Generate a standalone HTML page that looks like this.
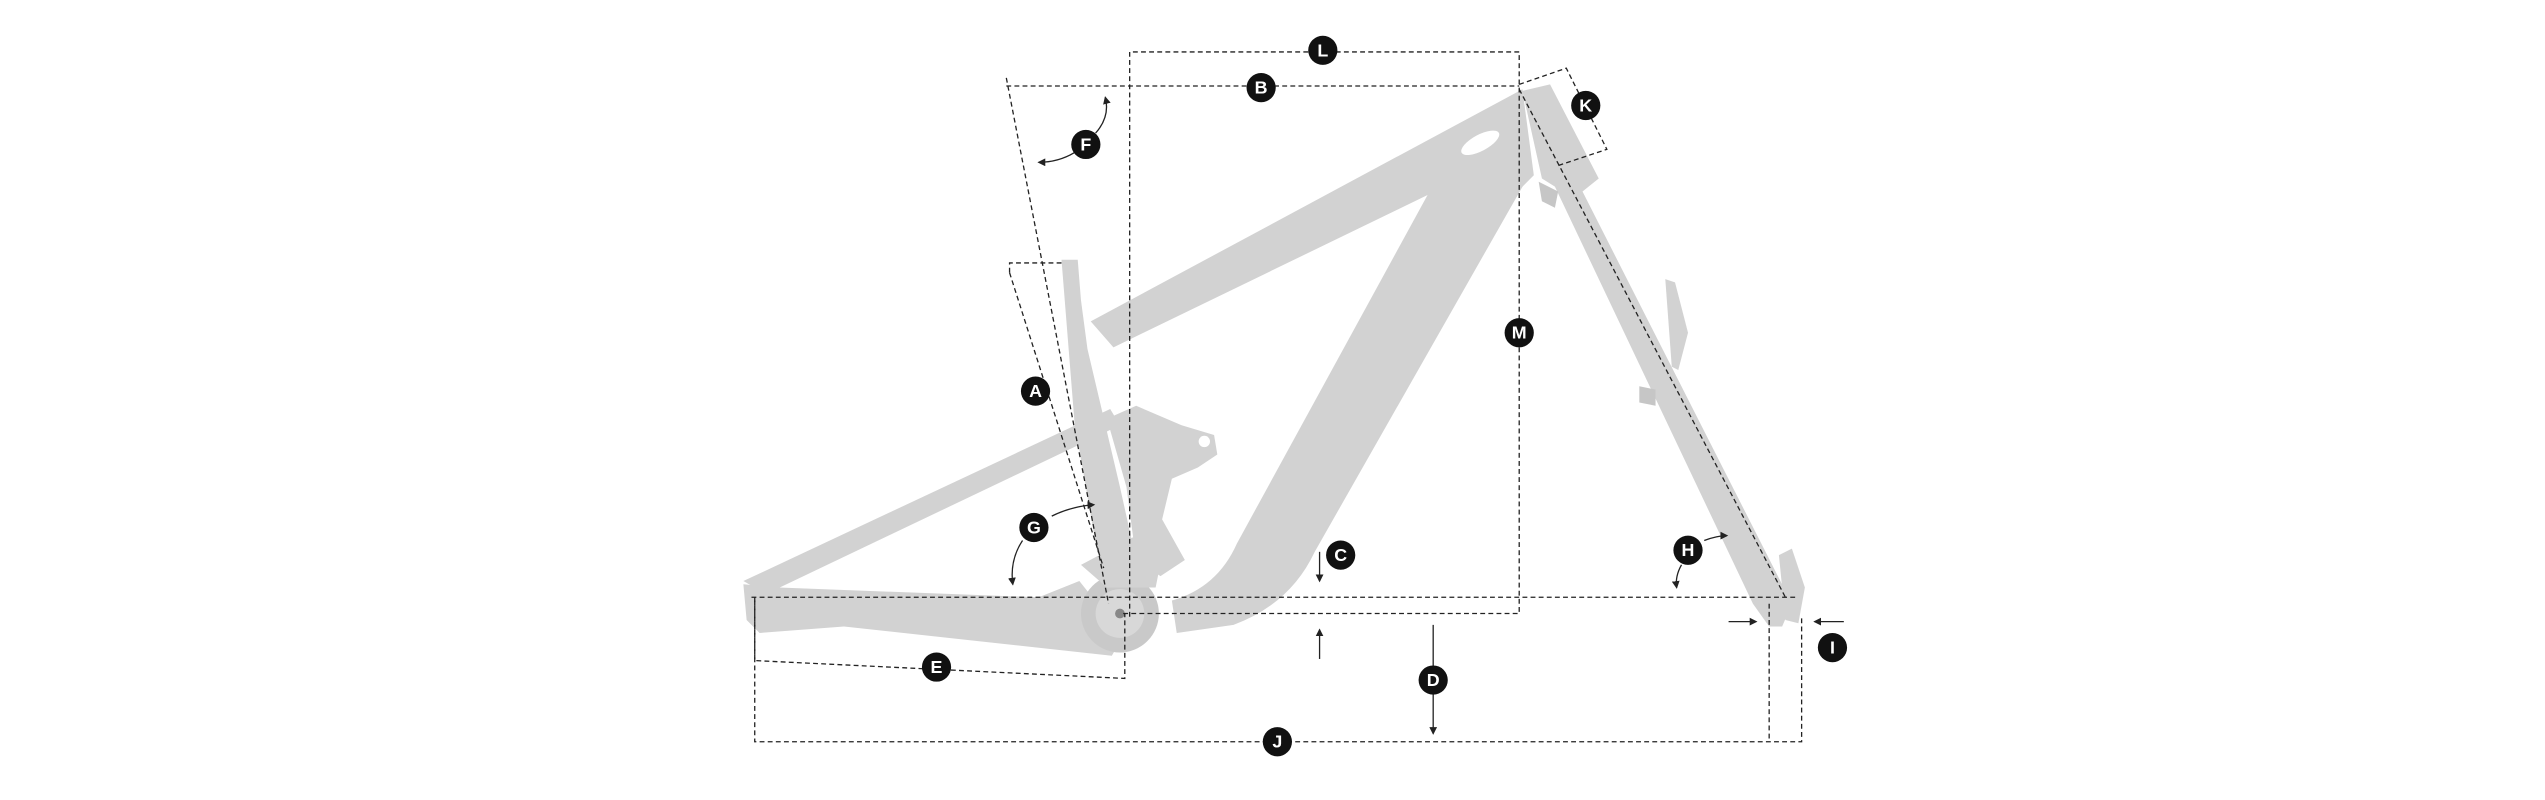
<!DOCTYPE html>
<html><head><meta charset="utf-8"><style>
html,body{margin:0;padding:0;background:#fff;}
svg{display:block;}
text{font-family:"Liberation Sans",sans-serif;font-weight:bold;fill:#fff;font-size:11px;text-anchor:middle;dominant-baseline:central;}
.d{stroke:#222;stroke-width:0.8;stroke-dasharray:3,2;fill:none;}
.s{stroke:#222;stroke-width:0.8;fill:none;}
.f{fill:#d2d2d2;}
.f2{fill:#c6c6c6;}
</style></head><body>
<svg width="2545" height="800" viewBox="0 0 1568 492.9" preserveAspectRatio="none">
<defs><marker id="a" markerWidth="6" markerHeight="6" refX="5" refY="3" orient="auto"><path d="M0,0L6,3L0,6z" fill="#222"/></marker></defs>
<!-- fork -->
<polygon class="f" points="938,56 955,52 985,110 975,118 1104,372 1098,386 1090,386 1080,372 958,115 950,110"/>
<polygon class="f2" points="948,112 960,118 958,128 950,124"/>
<polygon class="f" points="1026,172 1032,174 1040,205 1034,228 1030,226"/>
<polygon class="f2" points="1010,238 1020,240 1020,250 1010,248"/>
<polygon class="f" points="1096,342 1104,338 1112,362 1108,384 1100,382"/>
<!-- top tube + head -->
<polygon class="f" points="672,198 925,62 938,55 945,108 935,118 884,118 686,214"/>
<ellipse cx="912" cy="88" rx="13" ry="5" fill="#fff" transform="rotate(-28 912 88)"/>
<!-- down tube -->
<path class="f" d="M884,112 L942,108 L810,340 Q795,372 760,385 L725,390 L722,370 Q750,362 762,335 Z"/>
<!-- seat tube -->
<polygon class="f" points="654,160 664,160 666,185 670,215 690,300 700,345 690,362 676,340 662,260"/>
<!-- rocker -->
<polygon class="f" points="682,258 700,250 728,262 748,268 750,280 738,288 722,295 716,320 730,345 715,355 700,345 694,300"/>
<circle cx="742" cy="272" r="3.5" fill="#fff"/>
<!-- seat stay -->
<polygon class="f" points="458,358 684,252 690,262 472,366"/>
<!-- chain stay -->
<polygon class="f" points="458,360 480,362 640,368 665,358 692,392 685,404 520,386 468,390 460,382"/>
<!-- motor -->
<circle cx="690" cy="378" r="24" fill="#c9c9c9"/>
<circle cx="690" cy="378" r="15" fill="#d8d8d8"/>
<circle cx="690" cy="378" r="3" fill="#888"/>
<polygon class="f" points="666,348 700,330 716,342 712,362 682,362"/>
<!-- dims -->
<polyline class="d" points="696,380 696,32 936,32 936,378 690,378"/>
<line class="d" x1="620" y1="53" x2="936" y2="53"/>
<line class="d" x1="620" y1="48" x2="683" y2="372"/>
<polyline class="d" points="622,168 622,162 656,162"/>
<line class="d" x1="622" y1="168" x2="680" y2="350"/>
<polyline class="d" points="936,52 965,42 990,92 960,102"/>
<line class="d" x1="936" y1="55" x2="1100" y2="368"/>
<line class="d" x1="463" y1="368" x2="1108" y2="368"/>
<polyline class="d" points="465,368 465,407 693,418 693,378"/>
<polyline class="d" points="465,370 465,457 1110,457 1110,380"/>
<line class="d" x1="1090" y1="372" x2="1090" y2="457"/>
<!-- arrows -->
<line class="s" x1="813" y1="340" x2="813" y2="358" marker-end="url(#a)"/>
<line class="s" x1="813" y1="406" x2="813" y2="388" marker-end="url(#a)"/>
<line class="s" x1="883" y1="385" x2="883" y2="452" marker-end="url(#a)"/>
<line class="s" x1="1065" y1="383" x2="1082" y2="383" marker-end="url(#a)"/>
<line class="s" x1="1136" y1="383" x2="1118" y2="383" marker-end="url(#a)"/>
<path class="s" d="M675,82 Q684,72 681,60" marker-end="url(#a)"/>
<path class="s" d="M662,94 Q652,100 640,100" marker-end="url(#a)"/>
<path class="s" d="M648,318 Q660,312 674,311" marker-end="url(#a)"/>
<path class="s" d="M630,333 Q622,345 624,360" marker-end="url(#a)"/>
<path class="s" d="M1050,333 Q1058,330 1064,330" marker-end="url(#a)"/>
<path class="s" d="M1036,348 Q1032,355 1033,362" marker-end="url(#a)"/>
<!-- labels -->
<g fill="#111">
<circle cx="815" cy="31" r="9"/><circle cx="777" cy="54" r="9"/><circle cx="977" cy="65" r="9"/>
<circle cx="669" cy="89" r="9"/><circle cx="936" cy="205" r="9"/><circle cx="638" cy="241" r="9"/>
<circle cx="637" cy="325" r="9"/><circle cx="826" cy="342" r="9"/><circle cx="1040" cy="339" r="9"/>
<circle cx="1129" cy="399" r="9"/><circle cx="577" cy="411" r="9"/><circle cx="883" cy="419" r="9"/>
<circle cx="787" cy="457" r="9"/>
</g>
<text x="815" y="31">L</text><text x="777" y="54">B</text><text x="977" y="65">K</text>
<text x="669" y="89">F</text><text x="936" y="205">M</text><text x="638" y="241">A</text>
<text x="637" y="325">G</text><text x="826" y="342">C</text><text x="1040" y="339">H</text>
<text x="1129" y="399">I</text><text x="577" y="411">E</text><text x="883" y="419">D</text>
<text x="787" y="457">J</text>
</svg>
</body></html>
